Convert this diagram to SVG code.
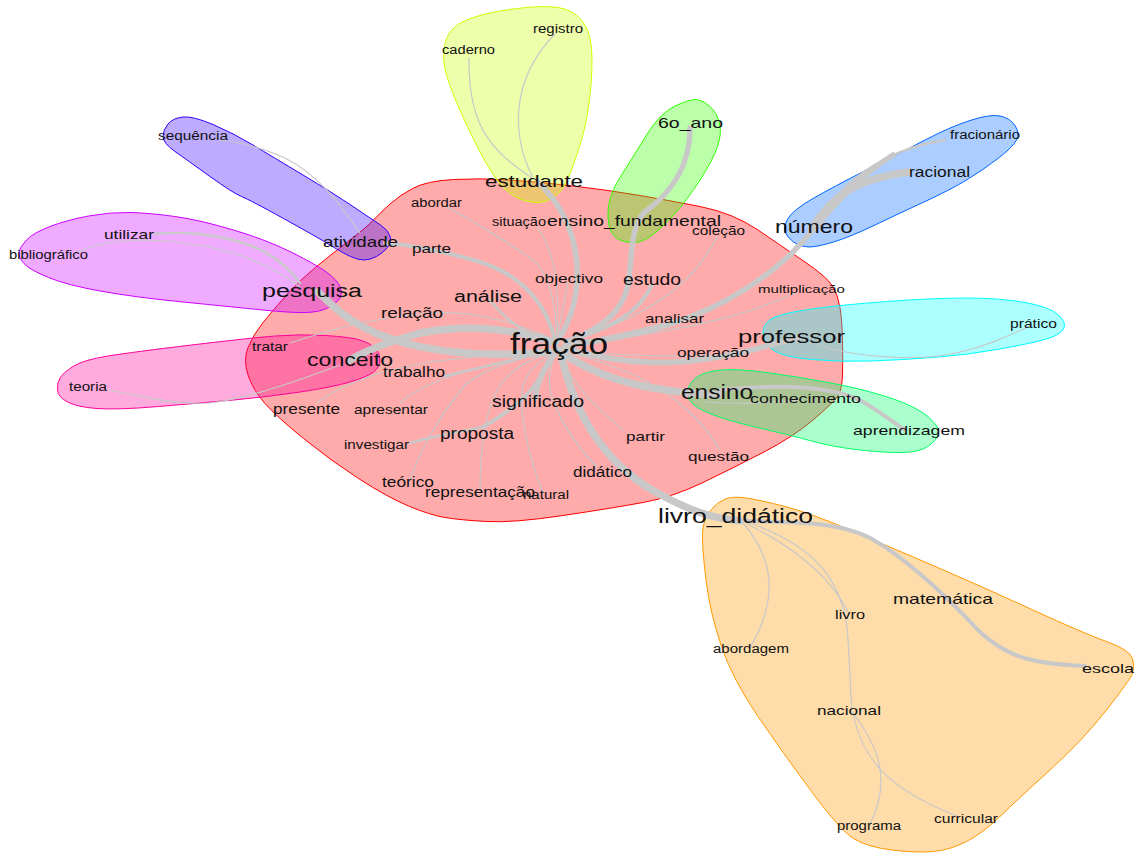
<svg xmlns="http://www.w3.org/2000/svg" width="1137" height="853" viewBox="0 0 1137 853">
<style>
.h{stroke-width:1;stroke-linejoin:round}
.e{fill:none;stroke:#c8c8c8;stroke-linecap:round}
.w1{stroke-width:1.2}.w2{stroke-width:2.5}.w3{stroke-width:4}.w4{stroke-width:5.5}.w5{stroke-width:7.5}
text{font-family:"Liberation Sans",Arial,sans-serif;fill:#111}
</style>
<rect width="1137" height="853" fill="#fff"/>
<g id="hulls">
<path id="hull-fracao" class="h" fill="#FF0000" fill-opacity="0.33" stroke="#FF0000" d="M390,204 Q400,195 413.5,188 Q427,181 453.5,179.5 Q480,178 510,180 Q540,182 573.5,186 Q607,190 637,195 Q667,200 700,206.5 Q733,213 758,230 Q783,247 805,262 Q827,277 832.5,286 Q838,295 840,307.5 Q842,320 842.5,340 Q843,360 842.5,375 Q842,390 837.5,396.5 Q833,403 813,420 Q793,437 763,452.5 Q733,468 703,482.5 Q673,497 643,502.5 Q613,508 563,515.5 Q513,523 486.5,521.5 Q460,520 445,517.5 Q430,515 408.5,506 Q387,497 358.5,478.5 Q330,460 303.5,438.5 Q277,417 265,403.5 Q253,390 248,375 Q243,360 248,347.5 Q253,335 263,322.5 Q273,310 286.5,295 Q300,280 316.5,266.5 Q333,253 350,240 Q367,227 373.5,220 Q380,213 390,204 Z"/>
<path id="hull-estudante" class="h" fill="#CCFF00" fill-opacity="0.33" stroke="#CCFF00" d="M446,40 Q450,27 466.5,20 Q483,13 513,9 Q543,5 558,7.5 Q573,10 581.5,20 Q590,30 591.5,48.5 Q593,67 590,95 Q587,123 580,145 Q573,167 568,178.5 Q563,190 555,196 Q547,202 540,202.5 Q533,203 523,200 Q513,197 503,187 Q493,177 480,152 Q467,127 457,103.5 Q447,80 444.5,66.5 Q442,53 446,40 Z"/>
<path id="hull-6o" class="h" fill="#33FF00" fill-opacity="0.33" stroke="#33FF00" d="M675,106 Q690,99 696.5,99.5 Q703,100 710,106.5 Q717,113 719.5,123 Q722,133 717.5,146.5 Q713,160 700,180 Q687,200 675,213.5 Q663,227 653,234.5 Q643,242 635,242.5 Q627,243 620,240 Q613,237 610,228.5 Q607,220 608.5,206.5 Q610,193 621.5,175 Q633,157 646.5,135 Q660,113 675,106 Z"/>
<path id="hull-atividade" class="h" fill="#3300FF" fill-opacity="0.33" stroke="#3300FF" d="M168,124 Q173,118 183,117 Q193,116 213,124.5 Q233,133 253,145 Q273,157 303,175 Q333,193 353,206.5 Q373,220 380.5,225 Q388,230 390,236 Q392,242 387.5,247.5 Q383,253 376.5,256.5 Q370,260 364,260 Q358,260 350.5,256.5 Q343,253 330,245 Q317,237 283.5,218.5 Q250,200 241.5,196.5 Q233,193 210,176.5 Q187,160 175,151.5 Q163,143 163,136.5 Q163,130 168,124 Z"/>
<path id="hull-pesquisa" class="h" fill="#CC00FF" fill-opacity="0.33" stroke="#CC00FF" d="M26.5,240 Q33,233 50,226.5 Q67,220 88.5,216 Q110,212 130,212.5 Q150,213 175,216.5 Q200,220 233.5,230 Q267,240 292,252.5 Q317,265 327,272.5 Q337,280 340,286.5 Q343,293 340,298 Q337,303 328.5,307.5 Q320,312 306.5,312.5 Q293,313 263,310 Q233,307 183,302 Q133,297 100,291 Q67,285 48.5,277.5 Q30,270 24,263.5 Q18,257 19,252 Q20,247 26.5,240 Z"/>
<path id="hull-conceito" class="h" fill="#FF0099" fill-opacity="0.33" stroke="#FF0099" d="M60,378 Q63,373 73,366.5 Q83,360 108,356 Q133,352 191.5,345 Q250,338 275,336 Q300,334 325,335.5 Q350,337 360,340 Q370,343 375,348 Q380,353 380,360 Q380,367 373.5,372 Q367,377 350,382 Q333,387 300,392 Q267,397 233.5,400 Q200,403 158.5,406.5 Q117,410 97,408.5 Q77,407 67.5,402 Q58,397 57.5,390 Q57,383 60,378 Z"/>
<path id="hull-numero" class="h" fill="#0066FF" fill-opacity="0.33" stroke="#0066FF" d="M788,218.5 Q793,210 813,198.5 Q833,187 866.5,170 Q900,153 925,140 Q950,127 970,120.5 Q990,114 1000,116 Q1010,118 1015,125.5 Q1020,133 1016.5,140 Q1013,147 998,158.5 Q983,170 966.5,180 Q950,190 925,201.5 Q900,213 875,225 Q850,237 833.5,242 Q817,247 808.5,247 Q800,247 793.5,242 Q787,237 785,232 Q783,227 788,218.5 Z"/>
<path id="hull-professor" class="h" fill="#00FFFF" fill-opacity="0.33" stroke="#00FFFF" d="M773,318 Q783,313 811.5,309 Q840,305 886.5,301.5 Q933,298 966.5,298 Q1000,298 1025,302.5 Q1050,307 1058.5,315 Q1067,323 1063.5,329 Q1060,335 1046.5,339 Q1033,343 1000,349 Q967,355 933.5,357.5 Q900,360 870,361 Q840,362 811.5,359.5 Q783,357 773,350 Q763,343 763,333 Q763,323 773,318 Z"/>
<path id="hull-ensino" class="h" fill="#00FF66" fill-opacity="0.33" stroke="#00FF66" d="M693.5,380 Q700,373 716.5,370.5 Q733,368 766.5,372.5 Q800,377 833.5,383.5 Q867,390 892,398.5 Q917,407 928.5,417 Q940,427 938.5,433.5 Q937,440 928.5,446 Q920,452 903.5,452.5 Q887,453 860,450 Q833,447 811.5,441 Q790,435 761.5,428.5 Q733,422 716.5,416 Q700,410 694,405 Q688,400 687.5,393.5 Q687,387 693.5,380 Z"/>
<path id="hull-livro" class="h" fill="#FF9900" fill-opacity="0.33" stroke="#FF9900" d="M710,511 Q717,502 725,499 Q733,496 746.5,498 Q760,500 785,506.5 Q810,513 850,530 Q890,547 936.5,567 Q983,587 1033,610 Q1083,633 1106.5,641.5 Q1130,650 1132.5,658.5 Q1135,667 1132.5,673.5 Q1130,680 1106.5,710 Q1083,740 1050,770 Q1017,800 1000,816.5 Q983,833 966.5,841.5 Q950,850 933.5,851.5 Q917,853 892,850 Q867,847 853.5,838.5 Q840,830 811.5,791.5 Q783,753 758,716.5 Q733,680 721.5,646.5 Q710,613 706,580 Q702,547 702.5,533.5 Q703,520 710,511 Z"/>
</g>
<g id="connectors">
<path class="e w4" d="M558,340 C585,300 588,230 538,182"/>
<path class="e w1" d="M532,178 C490,150 468,125 469,58"/>
<path class="e w1" d="M532,176 C512,135 510,80 555,34"/>
<path class="e w4" d="M690,128 C690,170 668,195 645,212 C630,225 632,260 628,285 C622,315 595,332 565,342"/>
<path class="e w3" d="M652,285 C640,310 620,325 565,342"/>
<path class="e w4" d="M565,345 C660,335 730,310 790,255 C820,225 845,185 893,155"/>
<path class="e w5" d="M812,228 C830,200 850,180 908,172"/>
<path class="e w2" d="M812,228 C840,185 880,150 945,140"/>
<path class="e w1" d="M717,237 C700,270 670,310 565,343"/>
<path class="e w1" d="M797,292 C760,310 700,330 565,345"/>
<path class="e w1" d="M675,320 C640,330 600,338 565,345"/>
<path class="e w4" d="M565,348 C620,365 680,370 763,347 C780,342 790,340 800,338"/>
<path class="e w1" d="M817,345 C860,358 920,362 960,352 C990,345 1010,335 1030,326"/>
<path class="e w1" d="M565,350 C620,356 670,357 713,355"/>
<path class="e w5" d="M560,352 C590,370 620,390 720,395"/>
<path class="e w3" d="M720,390 C790,383 840,388 865,403 C880,412 890,420 905,430"/>
<path class="e w1" d="M705,402 C740,405 770,402 800,400"/>
<path class="e w1" d="M565,352 C640,370 690,400 720,450"/>
<path class="e w5" d="M560,350 C575,420 610,470 665,497 C690,510 710,518 740,521"/>
<path class="e w3" d="M740,521 C800,522 840,522 870,538 C910,560 950,600 980,632 C1010,660 1040,664 1085,666"/>
<path class="e w1" d="M743,523 C775,560 778,600 750,648"/>
<path class="e w1" d="M747,524 C790,545 830,575 848,612"/>
<path class="e w1" d="M750,523 C810,545 840,575 847,627 C850,660 850,690 852,710"/>
<path class="e w1" d="M852,712 C878,745 892,780 870,824"/>
<path class="e w1" d="M853,713 C862,760 890,790 957,816"/>
<path class="e w5" d="M555,352 C480,358 410,352 363,327 C345,318 335,308 318,292"/>
<path class="e w2" d="M300,283 C280,255 250,240 200,234 C180,232 165,233 155,234"/>
<path class="e w1" d="M300,287 C260,255 200,240 140,240 C110,241 90,246 78,252"/>
<path class="e w5" d="M555,343 C520,330 470,323 420,333 C395,340 370,348 350,360"/>
<path class="e w1" d="M340,365 C300,380 250,398 210,403 C170,405 140,395 107,390"/>
<path class="e w1" d="M290,343 C330,330 370,318 430,313 C480,310 520,325 555,340"/>
<path class="e w2" d="M490,300 C505,320 525,335 555,343"/>
<path class="e w3" d="M555,340 C545,300 520,275 480,262 C440,250 410,245 385,243"/>
<path class="e w1" d="M360,233 C340,205 320,175 283,157 C260,147 240,142 220,140"/>
<path class="e w1" d="M447,207 C480,225 520,250 537,263 C550,280 555,300 557,338"/>
<path class="e w1" d="M537,227 C555,250 560,290 557,338"/>
<path class="e w1" d="M568,282 C565,300 560,320 558,338"/>
<path class="e w2" d="M445,376 C480,368 520,358 555,350"/>
<path class="e w1" d="M317,403 C340,385 380,370 430,362 C480,356 520,352 555,350"/>
<path class="e w1" d="M400,403 C420,385 460,368 555,352"/>
<path class="e w4" d="M535,398 C538,380 545,365 556,352"/>
<path class="e w3" d="M483,427 C505,414 525,400 535,385 C545,370 552,360 556,352"/>
<path class="e w2" d="M483,427 C455,433 430,437 410,443"/>
<path class="e w1" d="M410,480 C420,450 440,415 465,385 C490,365 530,355 555,352"/>
<path class="e w1" d="M480,490 C480,450 485,410 500,385 C515,365 540,355 556,352"/>
<path class="e w1" d="M543,493 C530,460 518,415 523,385 C528,368 545,358 556,352"/>
<path class="e w1" d="M597,467 C570,440 555,410 550,390 C548,375 552,360 556,352"/>
<path class="e w1" d="M623,430 C600,410 575,390 558,352"/>
</g>
<g id="labels">
<g id="n-fracao"><text x="510" y="354" font-size="29" textLength="98" lengthAdjust="spacingAndGlyphs">fração</text></g>
<g id="n-estudante"><text x="485" y="187" font-size="17" textLength="98" lengthAdjust="spacingAndGlyphs">estudante</text></g>
<g id="n-ensino_fundamental"><text x="547" y="226" font-size="15" textLength="174" lengthAdjust="spacingAndGlyphs">ensino_fundamental</text></g>
<g id="n-6o_ano"><text x="658" y="128" font-size="15" textLength="65" lengthAdjust="spacingAndGlyphs">6o_ano</text></g>
<g id="n-numero"><text x="775" y="233" font-size="19" textLength="78" lengthAdjust="spacingAndGlyphs">número</text></g>
<g id="n-racional"><text x="909" y="177" font-size="14" textLength="61" lengthAdjust="spacingAndGlyphs">racional</text></g>
<g id="n-fracionario"><text x="950" y="139" font-size="12" textLength="70" lengthAdjust="spacingAndGlyphs">fracionário</text></g>
<g id="n-professor"><text x="738" y="343" font-size="19" textLength="107" lengthAdjust="spacingAndGlyphs">professor</text></g>
<g id="n-pratico"><text x="1010" y="328" font-size="12" textLength="47" lengthAdjust="spacingAndGlyphs">prático</text></g>
<g id="n-ensino"><text x="681" y="399" font-size="20" textLength="72" lengthAdjust="spacingAndGlyphs">ensino</text></g>
<g id="n-conhecimento"><text x="750" y="403" font-size="13" textLength="111" lengthAdjust="spacingAndGlyphs">conhecimento</text></g>
<g id="n-aprendizagem"><text x="853" y="435" font-size="13" textLength="112" lengthAdjust="spacingAndGlyphs">aprendizagem</text></g>
<g id="n-livro_didatico"><text x="658" y="523" font-size="20" textLength="155" lengthAdjust="spacingAndGlyphs">livro_didático</text></g>
<g id="n-matematica"><text x="893" y="604" font-size="15" textLength="100" lengthAdjust="spacingAndGlyphs">matemática</text></g>
<g id="n-escola"><text x="1082" y="673" font-size="13" textLength="52" lengthAdjust="spacingAndGlyphs">escola</text></g>
<g id="n-livro"><text x="835" y="619" font-size="12" textLength="30" lengthAdjust="spacingAndGlyphs">livro</text></g>
<g id="n-abordagem"><text x="713" y="653" font-size="12" textLength="76" lengthAdjust="spacingAndGlyphs">abordagem</text></g>
<g id="n-nacional"><text x="817" y="715" font-size="13" textLength="64" lengthAdjust="spacingAndGlyphs">nacional</text></g>
<g id="n-curricular"><text x="934" y="823" font-size="12" textLength="64" lengthAdjust="spacingAndGlyphs">curricular</text></g>
<g id="n-programa"><text x="837" y="830" font-size="12" textLength="64" lengthAdjust="spacingAndGlyphs">programa</text></g>
<g id="n-pesquisa"><text x="262" y="297" font-size="18" textLength="100" lengthAdjust="spacingAndGlyphs">pesquisa</text></g>
<g id="n-utilizar"><text x="104" y="239" font-size="13" textLength="50" lengthAdjust="spacingAndGlyphs">utilizar</text></g>
<g id="n-bibliografico"><text x="9" y="259" font-size="12" textLength="79" lengthAdjust="spacingAndGlyphs">bibliográfico</text></g>
<g id="n-conceito"><text x="307" y="366" font-size="18" textLength="86" lengthAdjust="spacingAndGlyphs">conceito</text></g>
<g id="n-tratar"><text x="252" y="351" font-size="12" textLength="36" lengthAdjust="spacingAndGlyphs">tratar</text></g>
<g id="n-teoria"><text x="69" y="391" font-size="12" textLength="38" lengthAdjust="spacingAndGlyphs">teoria</text></g>
<g id="n-atividade"><text x="323" y="247" font-size="15" textLength="75" lengthAdjust="spacingAndGlyphs">atividade</text></g>
<g id="n-sequencia"><text x="158" y="140" font-size="12" textLength="70" lengthAdjust="spacingAndGlyphs">sequência</text></g>
<g id="n-caderno"><text x="442" y="54" font-size="12" textLength="53" lengthAdjust="spacingAndGlyphs">caderno</text></g>
<g id="n-registro"><text x="533" y="33" font-size="12" textLength="50" lengthAdjust="spacingAndGlyphs">registro</text></g>
<g id="n-abordar"><text x="411" y="207" font-size="12" textLength="51" lengthAdjust="spacingAndGlyphs">abordar</text></g>
<g id="n-situacao"><text x="492" y="226" font-size="12" textLength="54" lengthAdjust="spacingAndGlyphs">situação</text></g>
<g id="n-parte"><text x="412" y="253" font-size="13" textLength="39" lengthAdjust="spacingAndGlyphs">parte</text></g>
<g id="n-objectivo"><text x="535" y="283" font-size="13" textLength="68" lengthAdjust="spacingAndGlyphs">objectivo</text></g>
<g id="n-estudo"><text x="623" y="285" font-size="16" textLength="58" lengthAdjust="spacingAndGlyphs">estudo</text></g>
<g id="n-colecao"><text x="692" y="235" font-size="12" textLength="53" lengthAdjust="spacingAndGlyphs">coleção</text></g>
<g id="n-analise"><text x="454" y="302" font-size="16" textLength="68" lengthAdjust="spacingAndGlyphs">análise</text></g>
<g id="n-relacao"><text x="381" y="318" font-size="15" textLength="62" lengthAdjust="spacingAndGlyphs">relação</text></g>
<g id="n-multiplicacao"><text x="758" y="293" font-size="11.5" textLength="87" lengthAdjust="spacingAndGlyphs">multiplicação</text></g>
<g id="n-analisar"><text x="645" y="323" font-size="13" textLength="59" lengthAdjust="spacingAndGlyphs">analisar</text></g>
<g id="n-operacao"><text x="677" y="357" font-size="13" textLength="72" lengthAdjust="spacingAndGlyphs">operação</text></g>
<g id="n-trabalho"><text x="383" y="377" font-size="14" textLength="62" lengthAdjust="spacingAndGlyphs">trabalho</text></g>
<g id="n-presente"><text x="273" y="414" font-size="14" textLength="67" lengthAdjust="spacingAndGlyphs">presente</text></g>
<g id="n-apresentar"><text x="354" y="414" font-size="13" textLength="74" lengthAdjust="spacingAndGlyphs">apresentar</text></g>
<g id="n-significado"><text x="492" y="407" font-size="16" textLength="92" lengthAdjust="spacingAndGlyphs">significado</text></g>
<g id="n-proposta"><text x="440" y="439" font-size="16" textLength="74" lengthAdjust="spacingAndGlyphs">proposta</text></g>
<g id="n-investigar"><text x="344" y="449" font-size="12" textLength="65" lengthAdjust="spacingAndGlyphs">investigar</text></g>
<g id="n-partir"><text x="626" y="441" font-size="13" textLength="39" lengthAdjust="spacingAndGlyphs">partir</text></g>
<g id="n-questao"><text x="688" y="461" font-size="13" textLength="61" lengthAdjust="spacingAndGlyphs">questão</text></g>
<g id="n-didatico"><text x="573" y="477" font-size="14" textLength="59" lengthAdjust="spacingAndGlyphs">didático</text></g>
<g id="n-teorico"><text x="382" y="487" font-size="14" textLength="52" lengthAdjust="spacingAndGlyphs">teórico</text></g>
<g id="n-representacao"><text x="425" y="497" font-size="15" textLength="110" lengthAdjust="spacingAndGlyphs">representação</text></g>
<g id="n-natural"><text x="523" y="499" font-size="12" textLength="46" lengthAdjust="spacingAndGlyphs">natural</text></g>
</g>
</svg>
